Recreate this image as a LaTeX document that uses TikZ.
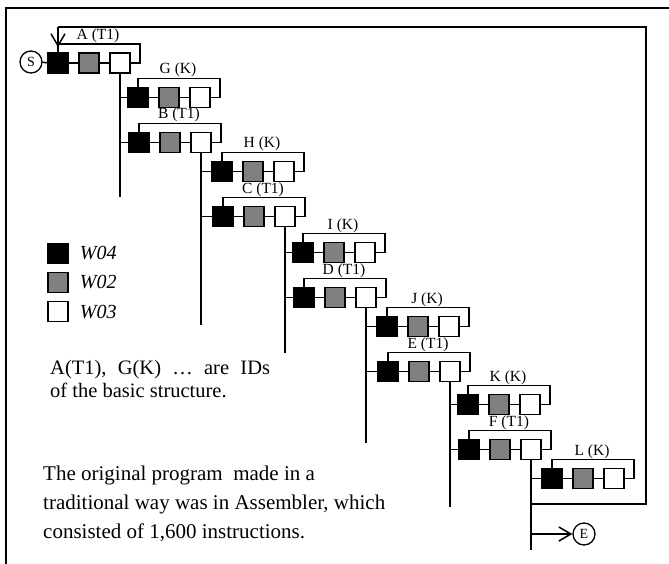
\documentclass[tikz,border=0pt]{standalone}
\usepackage{fontspec}
\setmainfont{Liberation Serif}
\usetikzlibrary{positioning, arrows.meta}

\begin{document}
\begin{tikzpicture}[x=1pt, y=-1pt,
    cell/.style={rectangle, draw, line width=1.5pt, minimum size=20pt, inner sep=0pt},
    wblack/.style={cell, fill=black},
    wgray/.style={cell, fill=black!50},
    wwhite/.style={cell, fill=white},
    term/.style={circle, draw, line width=1.3pt, minimum size=22pt, inner sep=0pt,
                 font=\fontsize{14}{16}\selectfont},
    tag/.style={inner sep=1pt, font=\fontsize{15.5}{17}\selectfont},
    key/.style={inner sep=0pt, font=\fontsize{20}{22}\selectfont\itshape},
    wire/.style={draw, line width=1.5pt},
    flow/.style={wire, -{Straight Barb[length=12pt, width=14pt]}},
  ]
    \useasboundingbox (0,0) rectangle (669,564);
    % outer frame (cut at right and bottom)
    \draw[line width=2pt] (6,564) -- (6,8) -- (669,8);
    % structure rows: T1 rows and K rows
    \foreach \x/\y/\name/\lab in {%
      48/63/A/{A (T1)}, 129/142.5/B/{B (T1)}, 213/216.5/C/{C (T1)},
      294/297.5/D/{D (T1)}, 378/371.5/E/{E (T1)}, 459/449.5/F/{F (T1)},
      128/97.5/G/{G (K)}, 212/171.5/H/{H (K)}, 293/252.5/I/{I (K)},
      377/326.5/J/{J (K)}, 458/404.5/K/{K (K)}, 542/478.5/L/{L (K)}} {
        \node[wblack] (\name1) at (\x+10,\y) {};
        \node[wgray, right=9.5pt of \name1] (\name2) {};
        \node[wwhite, right=9.5pt of \name2] (\name3) {};
        \draw[wire] (\name1) -- (\name2) (\name2) -- (\name3)
          (\name3.east) -- ++(9,0) -- ++(0,-19) -| (\name1.north);
        \node[tag, anchor=south] (\name lab) at (\x+50,\y-19) {\lab};
      }
    % branches down from each T1 row
    \foreach \t/\k/\n/\e in {A/G/B/197, B/H/C/325, C/I/D/353, D/J/E/443, E/K/F/507} {
        \draw[wire] (\t3.south) -- (\t3.south |- 0,\e);
        \draw[wire] (\t3.south |- \k1) -- (\k1.west);
        \draw[wire] (\t3.south |- \n1) -- (\n1.west);
      }
    \draw[wire] (F3.south) -- (F3.south |- 0,550);
    \draw[wire] (F3.south |- L1) -- (L1.west);
    % start and end
    \node[term] (start) at (31,62) {S};
    \draw[wire] (start) -- (A1);
    \node[term] (finish) at (584,534) {E};
    \draw[flow] (F3.south |- finish) -- (finish);
    % loop back to A
    \coordinate (loopin) at (F3.south |- 0,504);
    \coordinate (loopbr) at (646,504);
    \coordinate (looptr) at (646,27);
    \coordinate (looptl) at (A1.north |- 0,27);
    \draw[wire] (loopin) -- (loopbr) -- (looptr) -- (looptl);
    \draw[flow, shorten >=5pt] (looptl) -- (A1.north);
    % legend
    \node[wblack] (kb) at (58,253.5) {};
    \node[wgray] (kg) at (58,282.5) {};
    \node[wwhite] (kw) at (58,311.5) {};
    \node[key, right=11pt of kb] (kbt) {W04};
    \node[key, right=11pt of kg] (kgt) {W02};
    \node[key, right=11pt of kw] (kwt) {W03};
    % notes (base = last line)
    \node[inner sep=0pt, anchor=base west, align=left,
          font=\fontsize{20.5}{22.7}\selectfont] (note1) at (50,397)
      {A(T1),\hspace{0.55em}G(K)\hspace{0.55em}\dots\hspace{0.55em}are\hspace{0.55em}IDs\\
       of the basic structure.};
    \node[inner sep=0pt, anchor=base west, align=left,
          font=\fontsize{21}{29}\selectfont] (note2) at (43,538)
      {The original program\ \ made in a\\
       traditional way was in Assembler, which\\
       consisted of 1,600 instructions.};
  \end{tikzpicture}
\end{document}
